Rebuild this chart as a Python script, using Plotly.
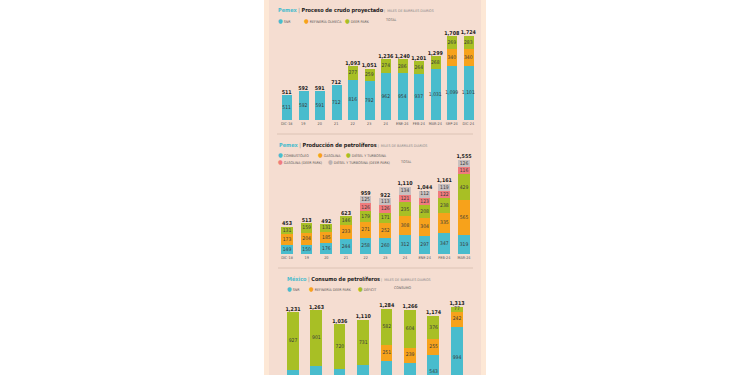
import plotly.graph_objects as go

# ---------------- data ----------------
cats1 = ["DIC-18", "19", "20", "21", "22", "23", "24", "ENE-24", "FEB-24", "MAR-24", "SEP-24", "DIC-24"]
snr1 = [511, 592, 591, 712, 816, 792, 962, 954, 937, 1031, 1099, 1101]
olmeca1 = [0, 0, 0, 0, 0, 0, 0, 0, 0, 0, 340, 340]
deerpark1 = [0, 0, 0, 0, 277, 259, 274, 286, 264, 268, 269, 283]

cats2 = ["DIC-18", "19", "20", "21", "22", "23", "24", "ENE-24", "FEB-24", "MAR-24"]
combustoleo2 = [149, 150, 176, 244, 258, 260, 312, 297, 347, 319]
gasolina2 = [173, 204, 185, 233, 271, 252, 308, 304, 335, 565]
diesel2 = [131, 159, 131, 146, 179, 171, 235, 208, 238, 429]
gasolina_dp2 = [0, 0, 0, 0, 126, 126, 121, 123, 122, 116]
diesel_dp2 = [0, 0, 0, 0, 125, 113, 134, 112, 119, 126]

cats3 = ["2018", "2019", "2020", "2021", "2022", "2023", "2024", "2025"]
snr3 = [304, 362, 316, 379, 451, 423, 543, 994]
deerpark3 = [0, 0, 0, 0, 251, 239, 255, 242]
deficit3 = [927, 901, 720, 731, 582, 604, 376, 77]

# ---------------- style ----------------
W, H = 750, 375
TEAL = "#49bccd"
ORANGE = "#f7a21b"
GREEN = "#a8bf25"
PINK = "#f07b7d"
GRAY = "#c9c0c0"
TXT = "#3a3a3a"
FONT = "Liberation Sans Narrow, DejaVu Sans Condensed, Arial Narrow, sans-serif"

Y3_MIN = 224


def fx(x):
    return x / W


def fy(y):
    return 1 - y / H


fig = go.Figure()


def add_stack(cats, series, colors, xa, ya, width, ymin=None, label_size=5):
    base = [0] * len(cats)
    for vals, col in zip(series, colors):
        fig.add_trace(go.Bar(x=cats, y=vals, marker=dict(color=col, line=dict(width=0)),
                             width=width, xaxis=xa, yaxis=ya, showlegend=False,
                             hoverinfo="skip"))
        mids = [b + v / 2 for b, v in zip(base, vals)]
        txt = [f"{v:,}" if (v and (ymin is None or m > ymin)) else "" for v, m in zip(vals, mids)]
        fig.add_trace(go.Scatter(x=cats, y=mids, mode="text", text=txt,
                                 textfont=dict(size=label_size, color=TXT, family=FONT),
                                 xaxis=xa, yaxis=ya, showlegend=False, hoverinfo="skip"))
        base = [b + v for b, v in zip(base, vals)]
    fig.add_trace(go.Scatter(x=cats, y=base, mode="text",
                             text=[f"<b>{t:,}</b>" for t in base], textposition="top center",
                             textfont=dict(size=5.3, color="#1a1a1a", family=FONT),
                             xaxis=xa, yaxis=ya, showlegend=False, hoverinfo="skip"))


add_stack(cats1, [snr1, olmeca1, deerpark1], [TEAL, ORANGE, GREEN], "x", "y", 0.6)
add_stack(cats2, [combustoleo2, gasolina2, diesel2, gasolina_dp2, diesel_dp2],
          [TEAL, ORANGE, GREEN, PINK, GRAY], "x2", "y2", 0.6)
# third chart is cropped at the bottom edge: only labels that stay inside the view are written
add_stack(cats3, [snr3, deerpark3, deficit3], [TEAL, ORANGE, GREEN], "x3", "y3", 0.5,
          ymin=Y3_MIN + 30)

xcommon = dict(showgrid=False, zeroline=False, showline=False, ticks="", tickangle=0,
               automargin=False,
               tickfont=dict(size=3.8, color="#555", family=FONT), fixedrange=True)
ycommon = dict(visible=False, showgrid=False, zeroline=False, fixedrange=True, automargin=False)

sp1 = (470 - 285) / 11
sp2 = (464 - 287) / 9
sp3 = (457 - 293) / 7
layout = dict(
    xaxis=dict(domain=[fx(285 - sp1 / 2), fx(470 + sp1 / 2)], anchor="y", **xcommon),
    yaxis=dict(domain=[fy(120), fy(22)], range=[0, 2000], anchor="x", **ycommon),
    xaxis2=dict(domain=[fx(287 - sp2 / 2), fx(464 + sp2 / 2)], anchor="y2", **xcommon),
    yaxis2=dict(domain=[fy(254), fy(151)], range=[0, 1700], anchor="x2", **ycommon),
    xaxis3=dict(domain=[fx(293 - sp3 / 2), fx(457 + sp3 / 2)], anchor="y3",
                **{**xcommon, "showticklabels": False}),
    yaxis3=dict(domain=[0, fy(300)], range=[Y3_MIN, 1422], anchor="x3", **ycommon),
)

fig.update_layout(
    width=W, height=H, margin=dict(l=0, r=0, t=0, b=0, autoexpand=False),
    paper_bgcolor="white", plot_bgcolor="rgba(0,0,0,0)",
    barmode="stack", bargap=0, showlegend=False,
    font=dict(family=FONT, color=TXT),
    **layout,
)

shapes = [
    dict(type="rect", xref="paper", yref="paper", x0=fx(264), x1=fx(486), y0=0, y1=1,
         fillcolor="#fde8d6", line=dict(width=0), layer="below"),
    dict(type="rect", xref="paper", yref="paper", x0=fx(269), x1=fx(481), y0=0, y1=1,
         fillcolor="#f5ddd1", line=dict(width=0), layer="below"),
    dict(type="line", xref="paper", yref="paper", x0=fx(277), x1=fx(473), y0=fy(134), y1=fy(134),
         line=dict(color="#dcc3b5", width=1), layer="below"),
    dict(type="line", xref="paper", yref="paper", x0=fx(278), x1=fx(473), y0=fy(268), y1=fy(268),
         line=dict(color="#dcc3b5", width=1), layer="below"),
]
fig.update_layout(shapes=shapes)


def title(x, y, org, name):
    return dict(xref="paper", yref="paper", x=fx(x), y=fy(y), xanchor="left", yanchor="middle",
                showarrow=False, font=dict(family=FONT, size=5.5, color="#1a1a1a"),
                text=(f"<b><span style='color:{TEAL}'>{org}</span></b>"
                      f"<span style='color:#888'> | </span><b>{name}</b>"
                      f"<span style='color:#888;font-size:3.6px'> |  MILES DE BARRILES DIARIOS</span>"))


def leg(x, y, label, color=None):
    t = label if color is None else f"<span style='color:{color};font-size:6px'>●</span> {label}"
    return dict(xref="paper", yref="paper", x=fx(x), y=fy(y), xanchor="left", yanchor="middle",
                showarrow=False, font=dict(family=FONT, size=3.6, color="#555"), text=t)


ann = [
    title(276, 11, "Pemex", "Proceso de crudo proyectado"),
    leg(276, 20, "SNR", TEAL), leg(302, 20, "REFINERÍA OLMECA", ORANGE),
    leg(343, 20, "DEER PARK", GREEN), leg(383, 20, "TOTAL"),
    title(277, 145, "Pemex", "Producción de petrolíferos"),
    leg(276, 154, "COMBUSTÓLEO", TEAL), leg(316, 154, "GASOLINA", ORANGE),
    leg(344, 154, "DIÉSEL Y TURBOSINA", GREEN),
    leg(276, 162, "GASOLINA (DEER PARK)", PINK),
    leg(326, 162, "DIÉSEL Y TURBOSINA (DEER PARK)", "#bdb3b3"), leg(398, 162, "TOTAL"),
    title(285, 279, "México", "Consumo de petrolíferos"),
    leg(285, 288, "SNR", TEAL), leg(307, 288, "REFINERÍA DEER PARK", ORANGE),
    leg(356, 288, "DÉFICIT", GREEN), leg(392, 288, "CONSUMO"),
]
fig.update_layout(annotations=ann)

fig.write_html("out.html", config={"displayModeBar": False},
               post_script="document.body.style.margin='0';")
